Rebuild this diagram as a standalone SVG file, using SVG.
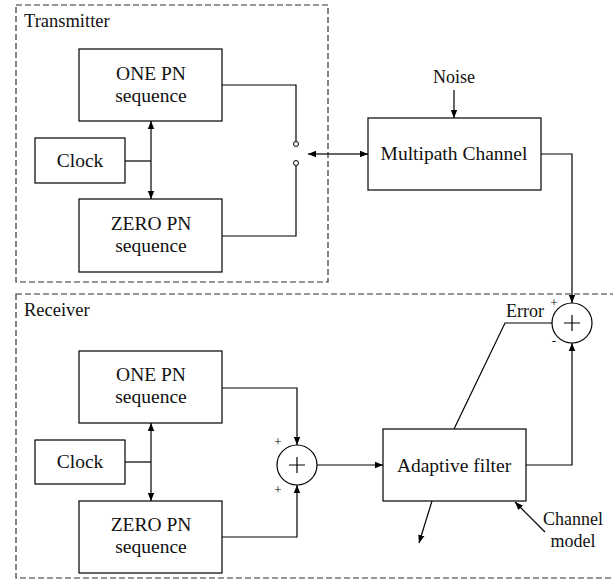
<svg xmlns="http://www.w3.org/2000/svg" width="613" height="581" viewBox="0 0 613 581">
<defs>
<marker id="ah" viewBox="0 0 10 10" refX="10" refY="5" markerWidth="8" markerHeight="8" markerUnits="userSpaceOnUse" orient="auto-start-reverse">
<path d="M0,1 L10,5 L0,9 z" fill="#000"/>
</marker>
</defs>
<style>
.box{fill:#fff;stroke:#000;stroke-width:1.2}
.dash{fill:none;stroke:#333;stroke-width:1.2;stroke-dasharray:6,3}
.ln{fill:none;stroke:#000;stroke-width:1.2}
.arr{fill:none;stroke:#000;stroke-width:1.2;marker-end:url(#ah)}
.t{font-family:"Liberation Serif","Times New Roman",serif;font-size:19.5px;fill:#111;text-anchor:middle}
.tl{font-family:"Liberation Serif","Times New Roman",serif;font-size:18.5px;fill:#111}
.ts{font-family:"Liberation Serif","Times New Roman",serif;font-size:18px;fill:#111;text-anchor:middle}
.sg{font-family:"Liberation Serif","Times New Roman",serif;font-size:13px;fill:#000;text-anchor:middle}
.sw{fill:#fff;stroke:#000;stroke-width:1}
</style>
<g id="transmitter">
<rect class="dash" x="16" y="5" width="312" height="277"/>
<text class="tl" x="24" y="27">Transmitter</text>
</g>
<g id="receiver">
<rect class="dash" x="16" y="294" width="610" height="284"/>
<text class="tl" x="24" y="316">Receiver</text>
</g>
<g id="connectors">
<line class="arr" x1="151" y1="161" x2="151" y2="121"/>
<line class="arr" x1="151" y1="161" x2="151" y2="199"/>
<line class="ln" x1="125" y1="161" x2="151" y2="161"/>
<polyline class="ln" points="222,85 296,85 296,141.5"/>
<polyline class="ln" points="222,236 296,236 296,165.5"/>
<line class="arr" x1="338" y1="154" x2="308" y2="154"/>
<line class="arr" x1="338" y1="154" x2="368" y2="154"/>
<line class="arr" x1="454" y1="90" x2="454" y2="118"/>
<polyline class="arr" points="541,154 572,154 572,303"/>
<line class="arr" x1="151" y1="462" x2="151" y2="423"/>
<line class="arr" x1="151" y1="462" x2="151" y2="501"/>
<line class="ln" x1="125" y1="462" x2="151" y2="462"/>
<polyline class="arr" points="222,388 297,388 297,445"/>
<polyline class="arr" points="222,537 297,537 297,485"/>
<line class="arr" x1="317" y1="465" x2="383" y2="465"/>
<polyline class="arr" points="526,465 572,465 572,343"/>
<polyline class="ln" points="552,323 505,323 454,429"/>
<line class="arr" x1="432" y1="501" x2="419" y2="543"/>
<line class="arr" x1="545" y1="532" x2="515" y2="502"/>
<circle class="sw" cx="296" cy="144" r="2.5"/>
<circle class="sw" cx="296" cy="163" r="2.5"/>
</g>
<g id="tx-one">
<rect class="box" x="79" y="49" width="143" height="72"/>
<text class="t" x="151" y="80">ONE PN</text>
<text class="t" x="151" y="102">sequence</text>
</g>
<g id="tx-clock">
<rect class="box" x="35" y="138" width="90" height="45"/>
<text class="t" x="80" y="167">Clock</text>
</g>
<g id="tx-zero">
<rect class="box" x="79" y="199" width="143" height="73"/>
<text class="t" x="151" y="230">ZERO PN</text>
<text class="t" x="151" y="252">sequence</text>
</g>
<g id="noise">
<text class="ts" x="454" y="83">Noise</text>
</g>
<g id="multipath">
<rect class="box" x="368" y="118" width="173" height="72"/>
<text class="t" x="454" y="160">Multipath Channel</text>
</g>
<g id="rx-one">
<rect class="box" x="79" y="351" width="143" height="72"/>
<text class="t" x="151" y="381">ONE PN</text>
<text class="t" x="151" y="403">sequence</text>
</g>
<g id="rx-clock">
<rect class="box" x="35" y="440" width="90" height="44"/>
<text class="t" x="80" y="468">Clock</text>
</g>
<g id="rx-zero">
<rect class="box" x="79" y="501" width="143" height="72"/>
<text class="t" x="151" y="531">ZERO PN</text>
<text class="t" x="151" y="553">sequence</text>
</g>
<g id="sum1">
<circle class="box" cx="297" cy="465" r="20"/>
<path class="ln" d="M289,465 H305 M297,457 V473"/>
<text class="sg" x="278" y="446">+</text>
<text class="sg" x="278" y="494">+</text>
</g>
<g id="adaptive">
<rect class="box" x="383" y="429" width="143" height="72"/>
<text class="t" x="454" y="472">Adaptive filter</text>
</g>
<g id="sum2">
<circle class="box" cx="572" cy="323" r="20"/>
<path class="ln" d="M564,323 H580 M572,315 V331"/>
<text class="sg" x="554" y="307">+</text>
<text class="sg" x="554" y="345">-</text>
</g>
<g id="error">
<text class="ts" x="525" y="317">Error</text>
</g>
<g id="channel-model">
<text class="ts" x="573" y="525">Channel</text>
<text class="ts" x="573" y="547">model</text>
</g>
</svg>
